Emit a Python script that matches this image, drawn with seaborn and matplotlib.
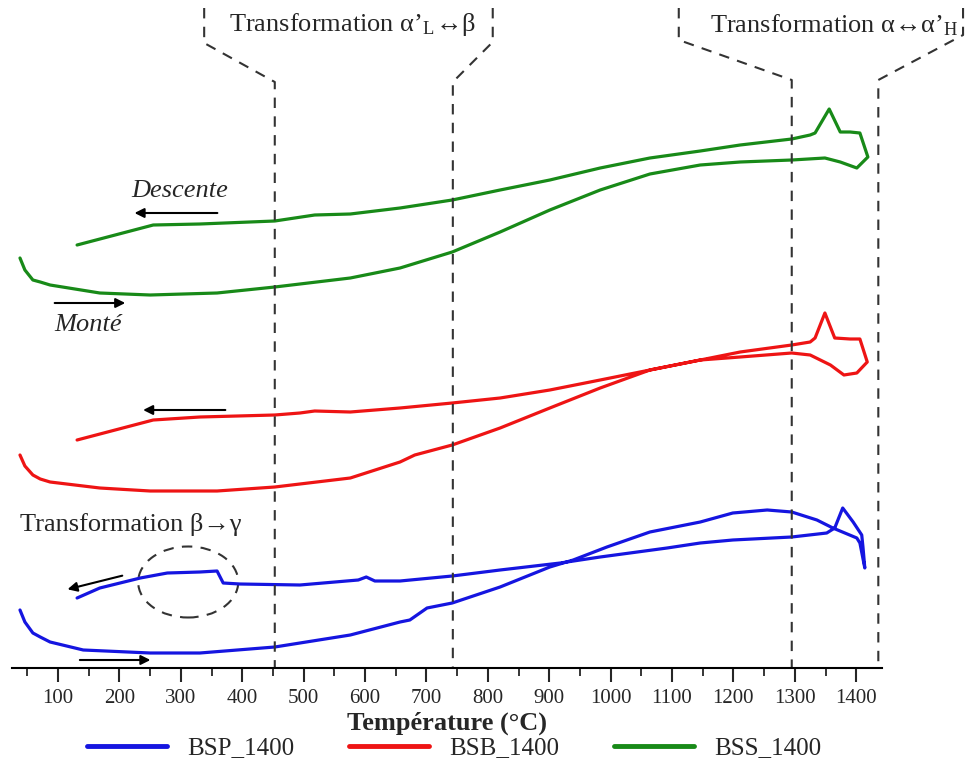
import matplotlib.pyplot as plt
import matplotlib.ticker as mticker
from matplotlib.patches import Ellipse
import seaborn as sns
import pandas as pd

# BSP_1400 - montée puis descente (signal en unités arbitraires)
bsp_monte_T = [38, 46, 59, 71, 87, 141, 250, 331, 453, 494, 576, 657, 673, 701, 742, 820, 901, 939, 994,
               1064, 1146, 1199, 1255, 1295, 1336, 1362, 1401, 1406, 1414]
bsp_monte_y = [58, 46, 35, 31, 26, 18, 15, 15, 21, 25, 33, 46, 48, 60, 65, 81, 101, 108, 121,
               136, 146, 155, 158, 156, 148, 140, 130, 125, 100]
bsp_desc_T = [1414, 1411, 1409, 1395, 1378, 1365, 1352, 1295, 1199, 1146, 1092, 983, 918, 820, 742,
              657, 616, 602, 589, 494, 396, 369, 359, 331, 278, 234, 168, 131]
bsp_desc_y = [100, 121, 133, 146, 160, 140, 135, 131, 128, 125, 120, 111, 105, 98, 92,
              87, 87, 91, 88, 83, 84, 85, 97, 96, 95, 90, 80, 70]

# BSB_1400
bsb_monte_T = [38, 46, 59, 71, 87, 168, 250, 359, 453, 576, 657, 681, 742, 820, 901, 983, 1064, 1146,
               1211, 1295, 1325, 1358, 1380, 1401, 1418]
bsb_monte_y = [213, 202, 193, 189, 186, 180, 177, 177, 181, 190, 206, 213, 223, 240, 260, 280, 298, 308,
               311, 315, 313, 303, 293, 295, 306]
bsb_desc_T = [1418, 1406, 1390, 1365, 1349, 1333, 1325, 1295, 1211, 1146, 1064, 983, 901, 820,
              742, 657, 576, 518, 494, 453, 331, 255, 131]
bsb_desc_y = [306, 329, 329, 330, 355, 330, 326, 323, 316, 308, 298, 288, 278, 270,
              265, 260, 256, 257, 255, 253, 251, 248, 228]

# BSS_1400
bss_monte_T = [38, 46, 59, 71, 87, 168, 250, 359, 453, 494, 576, 657, 742, 820, 901, 983, 1064, 1146,
               1211, 1295, 1349, 1374, 1401, 1419]
bss_monte_y = [410, 398, 388, 386, 383, 375, 373, 375, 381, 384, 390, 400, 416, 436, 458, 478, 494, 503,
               506, 508, 510, 506, 500, 511]
bss_desc_T = [1419, 1406, 1390, 1374, 1356, 1333, 1325, 1295, 1211, 1146, 1064, 983, 901, 820,
              742, 657, 576, 518, 453, 331, 255, 131]
bss_desc_y = [511, 535, 536, 536, 559, 535, 533, 529, 523, 517, 510, 500, 488, 478,
              468, 460, 454, 453, 447, 444, 443, 423]

echantillons = ['BSP_1400', 'BSB_1400', 'BSS_1400']
couleurs = ['#1515e0', '#ee1414', '#188a18']

series = {
    'BSP_1400': (bsp_monte_T + bsp_desc_T, bsp_monte_y + bsp_desc_y),
    'BSB_1400': (bsb_monte_T + bsb_desc_T, bsb_monte_y + bsb_desc_y),
    'BSS_1400': (bss_monte_T + bss_desc_T, bss_monte_y + bss_desc_y),
}
frames = []
for nom in echantillons:
    T, y = series[nom]
    frames.append(pd.DataFrame({'T': T, 'signal': y, 'echantillon': nom}))
df = pd.concat(frames, ignore_index=True)

sns.set_style('white')
plt.rcParams['font.family'] = ['Liberation Serif', 'DejaVu Serif']
plt.rcParams['mathtext.fontset'] = 'stix'

fig = plt.figure(figsize=(9.7, 7.73), dpi=100)
ax = fig.add_axes([12 / 970, 105 / 773, 870 / 970, 668 / 773])

sns.lineplot(data=df, x='T', y='signal', hue='echantillon', palette=couleurs,
             sort=False, estimator=None, lw=2.3, ax=ax)

ax.set_xlim(25, 1442)
ax.set_ylim(0, 668)

# axe du bas seulement
for s in ['left', 'right', 'top']:
    ax.spines[s].set_visible(False)
ax.spines['bottom'].set_linewidth(1.5)
ax.spines['bottom'].set_color('black')
ax.set_yticks([])
ax.set_ylabel('')
ax.xaxis.set_major_locator(mticker.MultipleLocator(100))
ax.xaxis.set_minor_locator(mticker.MultipleLocator(50))
ax.set_xticks(range(100, 1401, 100))
ax.tick_params(axis='x', which='major', direction='out', length=10, width=1.5,
               labelsize=15, pad=5, bottom=True)
ax.tick_params(axis='x', which='minor', direction='out', length=6, width=1.3, bottom=True)
ax.set_xlabel('Température (°C)', fontsize=19, fontweight='bold', labelpad=3)

# lignes pointillées des transformations
tirets = dict(color='#333333', lw=1.5, ls=(0, (5, 4)), clip_on=False)
ax.plot([338, 338, 453, 453], [660, 625, 586, 0], **tirets)
ax.plot([808, 808, 743, 743], [660, 626, 586, 0], **tirets)
ax.plot([1111, 1111, 1295, 1295], [660, 628, 588, 0], **tirets)
ax.plot([1574, 1574, 1436, 1436], [660, 633, 588, 0], **tirets)

ax.text(580, 643, 'Transformation α’$_{\\mathregular{L}}$↔β', fontsize=19,
        ha='center', va='center')
ax.text(1365, 643, 'Transformation α↔α’$_{\\mathregular{H}}$', fontsize=19,
        ha='center', va='center', clip_on=False)

fleche = dict(arrowstyle='-|>', color='black', lw=1.5, mutation_scale=14)
ax.annotate('', xy=(220, 455), xytext=(364, 455), arrowprops=fleche)
ax.text(299, 477, 'Descente', fontsize=19, style='italic', ha='center', va='center')
ax.annotate('', xy=(214, 365), xytext=(90, 365), arrowprops=fleche)
ax.text(149, 343, 'Monté', fontsize=19, style='italic', ha='center', va='center')
ax.annotate('', xy=(234, 258), xytext=(377, 258), arrowprops=fleche)
ax.text(38, 143, 'Transformation β→γ', fontsize=19, ha='left', va='center')
ax.annotate('', xy=(111, 78), xytext=(209, 93), arrowprops=fleche)
ax.annotate('', xy=(255, 8), xytext=(131, 8), arrowprops=fleche)
ax.add_patch(Ellipse((312, 86), 163, 71, fill=False, ec='#333333', lw=1.5, ls=(0, (5, 4))))

handles, labels = ax.get_legend_handles_labels()
ax.get_legend().remove()
for h in handles:
    h.set_linewidth(3.5)
fig.legend(handles, labels, loc='center', bbox_to_anchor=(454 / 970, 1 - 748 / 773),
           ncol=3, frameon=False, fontsize=18, handlelength=3.2, columnspacing=2.2)

fig.savefig('out.png', dpi=100)
